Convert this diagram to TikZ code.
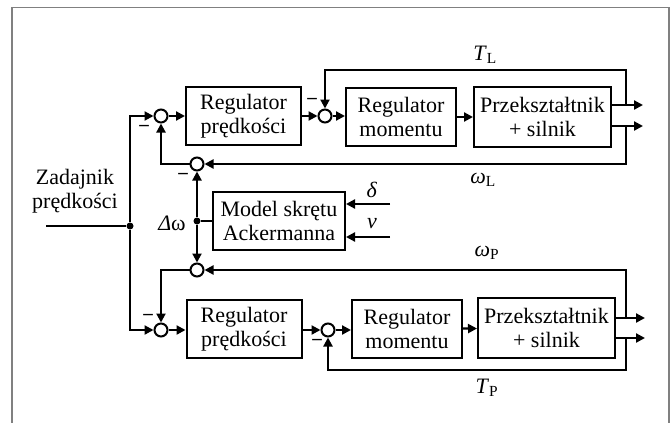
\documentclass[tikz,border=0pt]{standalone}
\usepackage{fontspec}
\setmainfont{Liberation Serif}
\usetikzlibrary{arrows.meta}

\tikzset{
  blok/.style={draw, line width=2pt, align=center, inner sep=0pt,
    font=\fontsize{22}{24.5}\selectfont},
  sumator/.style={draw, circle, line width=2pt, minimum size=13pt, inner sep=0pt},
  kropka/.style={circle, fill, minimum size=7pt, inner sep=0pt},
  sygnal/.style={line width=2.2pt},
  strz/.style={line width=2.2pt, -{Triangle[length=9pt,width=9pt]}},
  minus/.style={font=\bfseries\fontsize{19}{19}\selectfont, inner sep=0pt},
  etykieta/.style={font=\fontsize{22}{24}\selectfont, inner sep=0pt},
}

\begin{document}
\begin{tikzpicture}[x=1pt, y=-1pt]

\useasboundingbox (0,0) rectangle (670,423);
% ramka
\draw[gray, line width=1.2pt] (12,423) -- (12,7.5) -- (669,7.5) -- (669,423);

% tor gorny (L)
\node[sumator] (c1) at (161,116) {};
\node[blok, minimum width=115pt, minimum height=58pt] (rp1) at (243.5,116) {Regulator\\prędkości};
\node[sumator] (c2) at (325,116) {};
\node[blok, minimum width=110pt, minimum height=58pt] (rm1) at (401,117) {Regulator\\momentu};
\node[blok, minimum width=137pt, minimum height=60pt] (pk1) at (542.5,117) {Przekształtnik\\+ silnik};

% tor dolny (P)
\node[sumator] (c5) at (161,330) {};
\node[blok, minimum width=115pt, minimum height=58pt] (rp2) at (244,329) {Regulator\\prędkości};
\node[sumator] (c6) at (328,330) {};
\node[blok, minimum width=110pt, minimum height=58pt] (rm2) at (407,329) {Regulator\\momentu};
\node[blok, minimum width=137pt, minimum height=60pt] (pk2) at (546.5,328) {Przekształtnik\\+ silnik};

% model skretu
\node[sumator] (c3) at (197,164) {};
\node[sumator] (c4) at (197,270) {};
\node[blok, minimum width=132pt, minimum height=58pt] (model) at (279,221) {Model skrętu\\Ackermanna};
\node[kropka] (dw) at (197,221) {};
\node[kropka] (zad) at (130,226) {};

\coordinate (we) at (46,226);
\coordinate (w1a) at (643,105);
\coordinate (w1b) at (643,126);
\coordinate (w2a) at (645,318);
\coordinate (w2b) at (645,338);
\coordinate (tl) at (626,70);
\coordinate (wl) at (626,164);
\coordinate (wp) at (626,270);
\coordinate (tp) at (626,370);
\coordinate (d) at (390,204);
\coordinate (v) at (390,237);

% sygnaly
\draw[sygnal] (we) -- (zad);
\draw[strz] (zad) |- (c1);
\draw[strz] (zad) |- (c5);
\draw[strz] (c1) -- (rp1);
\draw[strz] (rp1.east |- c2) -- (c2);
\draw[strz] (c2) -- (rm1.west |- c2);
\draw[strz] (rm1) -- (pk1);
\draw[strz] (pk1.east |- w1a) -- (w1a);
\draw[strz] (pk1.east |- w1b) -- (w1b);
\draw[strz] (tl |- w1a) -- (tl) -| (c2);
\draw[strz] (wl |- w1b) -- (wl) -- (c3);
\draw[strz] (c3) -| (c1);

\draw[sygnal] (model.west |- dw) -- (dw);
\draw[strz] (dw) -- (c3);
\draw[strz] (dw) -- (c4);
\draw[strz] (d) -- (model.east |- d);
\draw[strz] (v) -- (model.east |- v);

\draw[strz] (wp |- w2a) -- (wp) -- (c4);
\draw[strz] (c4) -| (c5);
\draw[strz] (c5) -- (rp2.west |- c5);
\draw[strz] (rp2.east |- c6) -- (c6);
\draw[strz] (c6) -- (rm2.west |- c6);
\draw[strz] (rm2) -- (pk2);
\draw[strz] (pk2.east |- w2a) -- (w2a);
\draw[strz] (pk2.east |- w2b) -- (w2b);
\draw[strz] (tp |- w2b) -- (tp) -| (c6);

% znaki
\node[minus] (m1) at (144,128) {--};
\node[minus] (m2) at (312,101) {--};
\node[minus] (m3) at (183,176) {--};
\node[minus] (m4) at (148,317) {--};
\node[minus] (m5) at (317,342) {--};

% etykiety
\node[etykieta, align=center] (zadl) at (75,191) {Zadajnik\\prędkości};
\node[etykieta] (ltl) at (485,55) {\textit{T}\textsubscript{L}};
\node[etykieta] (lwl) at (483,180) {\textit{ω}\textsubscript{L}};
\node[etykieta] (lwp) at (487,253) {\textit{ω}\textsubscript{P}};
\node[etykieta] (ltp) at (487,388) {\textit{T}\textsubscript{P}};
\node[etykieta] (ldw) at (172,223) {\textit{Δ}ω};
\node[etykieta] (ld) at (372,190) {\textit{δ}};
\node[etykieta] (lv) at (372,224) {\textit{v}};

\end{tikzpicture}
\end{document}
